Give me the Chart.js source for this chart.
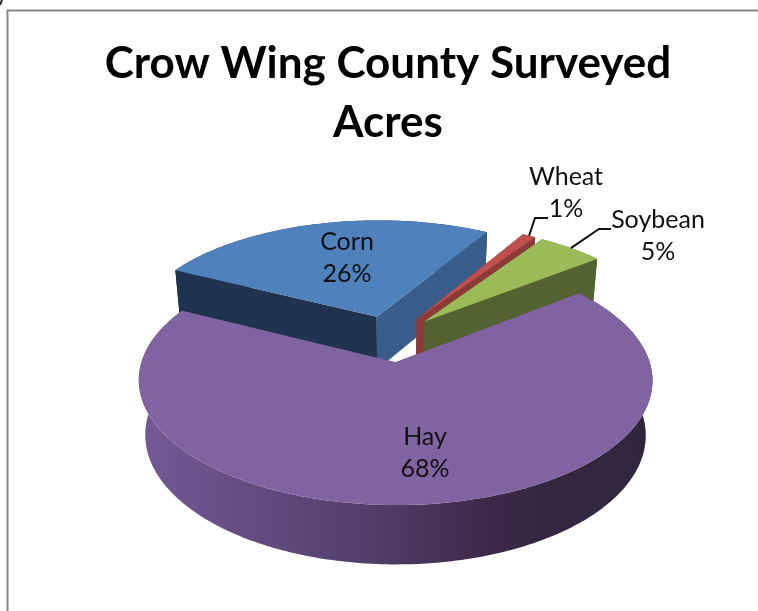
<!DOCTYPE html>
<html>
<head>
<meta charset="utf-8">
<title>Crow Wing County Surveyed Acres</title>
<style>
  html, body { margin: 0; padding: 0; background: #ffffff; }
  canvas { display: block; }
</style>
<script src="https://cdn.jsdelivr.net/npm/chart.js@4"></script>
</head>
<body>
<canvas id="pie" width="758" height="611"></canvas>
<script>
// Chart content
const titleLines = ['Crow Wing County Surveyed', 'Acres'];
const crops = ['Corn', 'Wheat', 'Soybean', 'Hay'];
const sharePercent = [26, 1, 5, 68];

// Slice colours: top face, then the two cut walls
const topColors = ['#4F81BD', '#C0504D', '#9BBB59', '#8064A2'];
const startWallColors = ['#1F3350', '#8C3A38', '#536231', '#4A3A60'];
const endWallColors = ['#385D8A', '#8C3A38', '#536231', '#4A3A60'];
const hayRimStops = [
  [0.00, '#735A93'], [0.20, '#654D83'], [0.45, '#533E6B'],
  [0.68, '#3D2848'], [0.80, '#32273F'], [1.00, '#30263C']
];

// View of the tilted disc
const tilt = 0.467;         // vertical squash of the disc plane
const nearness = 0.14;      // perspective strength along the viewing depth
const sink = 0.025;         // shrink of the lower face
const thickness = 55;       // height of the disc in pixels
const explode = 50;         // pull of each slice away from the centre
const panX = 2.5;           // sideways shift of the disc under the title

// Label text centres and leader elbows
const labelCentres = { Corn: [347, 258], Wheat: [566, 193], Soybean: [658, 236], Hay: [425, 453] };
const leaderElbows = { Wheat: [[535, 218], [548, 218]], Soybean: [[599, 229], [611, 229]] };
const labelFont = '25px Lato, "Open Sans", sans-serif';
const labelLeading = 32;

function projector(el) {
  const R = el.outerRadius;
  const mid = (el.startAngle + el.endAngle) / 2;
  const ox = Math.cos(mid) * explode;
  const oy = Math.sin(mid) * explode;
  return (angle, radius, depth) => {
    const u = Math.cos(angle) * radius + ox;
    const v = Math.sin(angle) * radius + oy;
    const den = 1 - nearness * v / R + sink * depth;
    return [el.x + panX + u / den, el.y + (tilt * v + thickness * depth) / den];
  };
}

// Arc element that renders itself as an extruded wedge of a tilted disc
class TiltedArc extends Chart.ArcElement {
  static id = 'tiltedArc';

  draw(ctx) {
    const at = projector(this);
    const R = this.outerRadius;
    const a0 = this.startAngle;
    const a1 = this.endAngle;
    const steps = Math.max(2, Math.ceil((a1 - a0) / (Math.PI / 180)));
    const arcPts = (depth, from, to) => {
      const pts = [];
      for (let i = 0; i <= steps; i++) {
        pts.push(at(from + (to - from) * i / steps, R, depth));
      }
      return pts;
    };
    const fillPoly = (pts, fill) => {
      ctx.beginPath();
      pts.forEach((p, i) => (i ? ctx.lineTo(p[0], p[1]) : ctx.moveTo(p[0], p[1])));
      ctx.closePath();
      ctx.fillStyle = fill;
      ctx.fill();
    };
    const idx = this.$context ? this.$context.dataIndex : 0;

    // Outer rim
    const rim = arcPts(0, a0, a1).concat(arcPts(1, a1, a0));
    let rimFill = startWallColors[idx];
    if (crops[idx] === 'Hay') {
      const xs = rim.map(p => p[0]);
      const grad = ctx.createLinearGradient(Math.min(...xs), 0, Math.max(...xs), 0);
      hayRimStops.forEach(s => grad.addColorStop(s[0], s[1]));
      rimFill = grad;
    }
    fillPoly(rim, rimFill);

    // Cut walls running from the apex to the rim
    fillPoly([at(a0, 0, 0), at(a0, R, 0), at(a0, R, 1), at(a0, 0, 1)], startWallColors[idx]);
    fillPoly([at(a1, 0, 0), at(a1, R, 0), at(a1, R, 1), at(a1, 0, 1)], endWallColors[idx]);

    // Top face
    fillPoly([at(a0, 0, 0)].concat(arcPts(0, a0, a1)), this.options.backgroundColor);
  }
}

class TiltedPieController extends Chart.PieController {
  static id = 'tiltedPie';
  static defaults = { dataElementType: 'tiltedArc' };
}

Chart.register(TiltedArc, TiltedPieController);

// Grey chart frame behind everything
const frame = {
  id: 'frame',
  beforeDraw(chart) {
    const { ctx } = chart;
    ctx.save();
    ctx.strokeStyle = '#868686';
    ctx.lineWidth = 2;
    ctx.beginPath();
    ctx.moveTo(7.5, 611);
    ctx.lineTo(7.5, 10.5);
    ctx.lineTo(758, 10.5);
    ctx.stroke();
    ctx.strokeStyle = '#222222';
    ctx.beginPath();
    ctx.moveTo(2, 0);
    ctx.lineTo(0, 5);
    ctx.stroke();
    ctx.restore();
  }
};

// Category and percentage labels with their leader lines
const sliceLabels = {
  id: 'sliceLabels',
  afterDatasetsDraw(chart) {
    const { ctx } = chart;
    const arcs = chart.getDatasetMeta(0).data;
    ctx.save();
    ctx.font = labelFont;
    ctx.fillStyle = '#111111';
    ctx.textAlign = 'center';
    ctx.textBaseline = 'middle';
    crops.forEach((name, i) => {
      const [cx, cy] = labelCentres[name];
      ctx.fillText(name, cx, cy - labelLeading / 2);
      ctx.fillText(sharePercent[i] + '%', cx, cy + labelLeading / 2);

      const elbow = leaderElbows[name];
      if (elbow) {
        const el = arcs[i];
        const mid = (el.startAngle + el.endAngle) / 2;
        const start = projector(el)(mid, el.outerRadius, 0);
        ctx.beginPath();
        ctx.moveTo(start[0], start[1]);
        elbow.forEach(p => ctx.lineTo(p[0], p[1]));
        ctx.strokeStyle = '#111111';
        ctx.lineWidth = 2;
        ctx.stroke();
      }
    });
    ctx.restore();
  }
};

new Chart(document.getElementById('pie'), {
  type: 'tiltedPie',
  data: {
    labels: crops,
    datasets: [{
      data: sharePercent,
      backgroundColor: topColors,
      borderWidth: 0,
      offset: explode,
      hoverOffset: 0,
      radius: 247
    }]
  },
  options: {
    responsive: false,
    animation: false,
    rotation: -63.2,
    layout: { padding: { left: 18, right: 0, top: 0, bottom: 86 } },
    plugins: {
      legend: { display: false },
      tooltip: { enabled: false },
      title: {
        display: true,
        text: titleLines,
        color: '#000000',
        font: { family: 'Lato, "Open Sans", sans-serif', size: 44, weight: 'bold', lineHeight: 1.34 },
        padding: { top: 34, bottom: 0 }
      }
    }
  },
  plugins: [frame, sliceLabels]
});
</script>
</body>
</html>
